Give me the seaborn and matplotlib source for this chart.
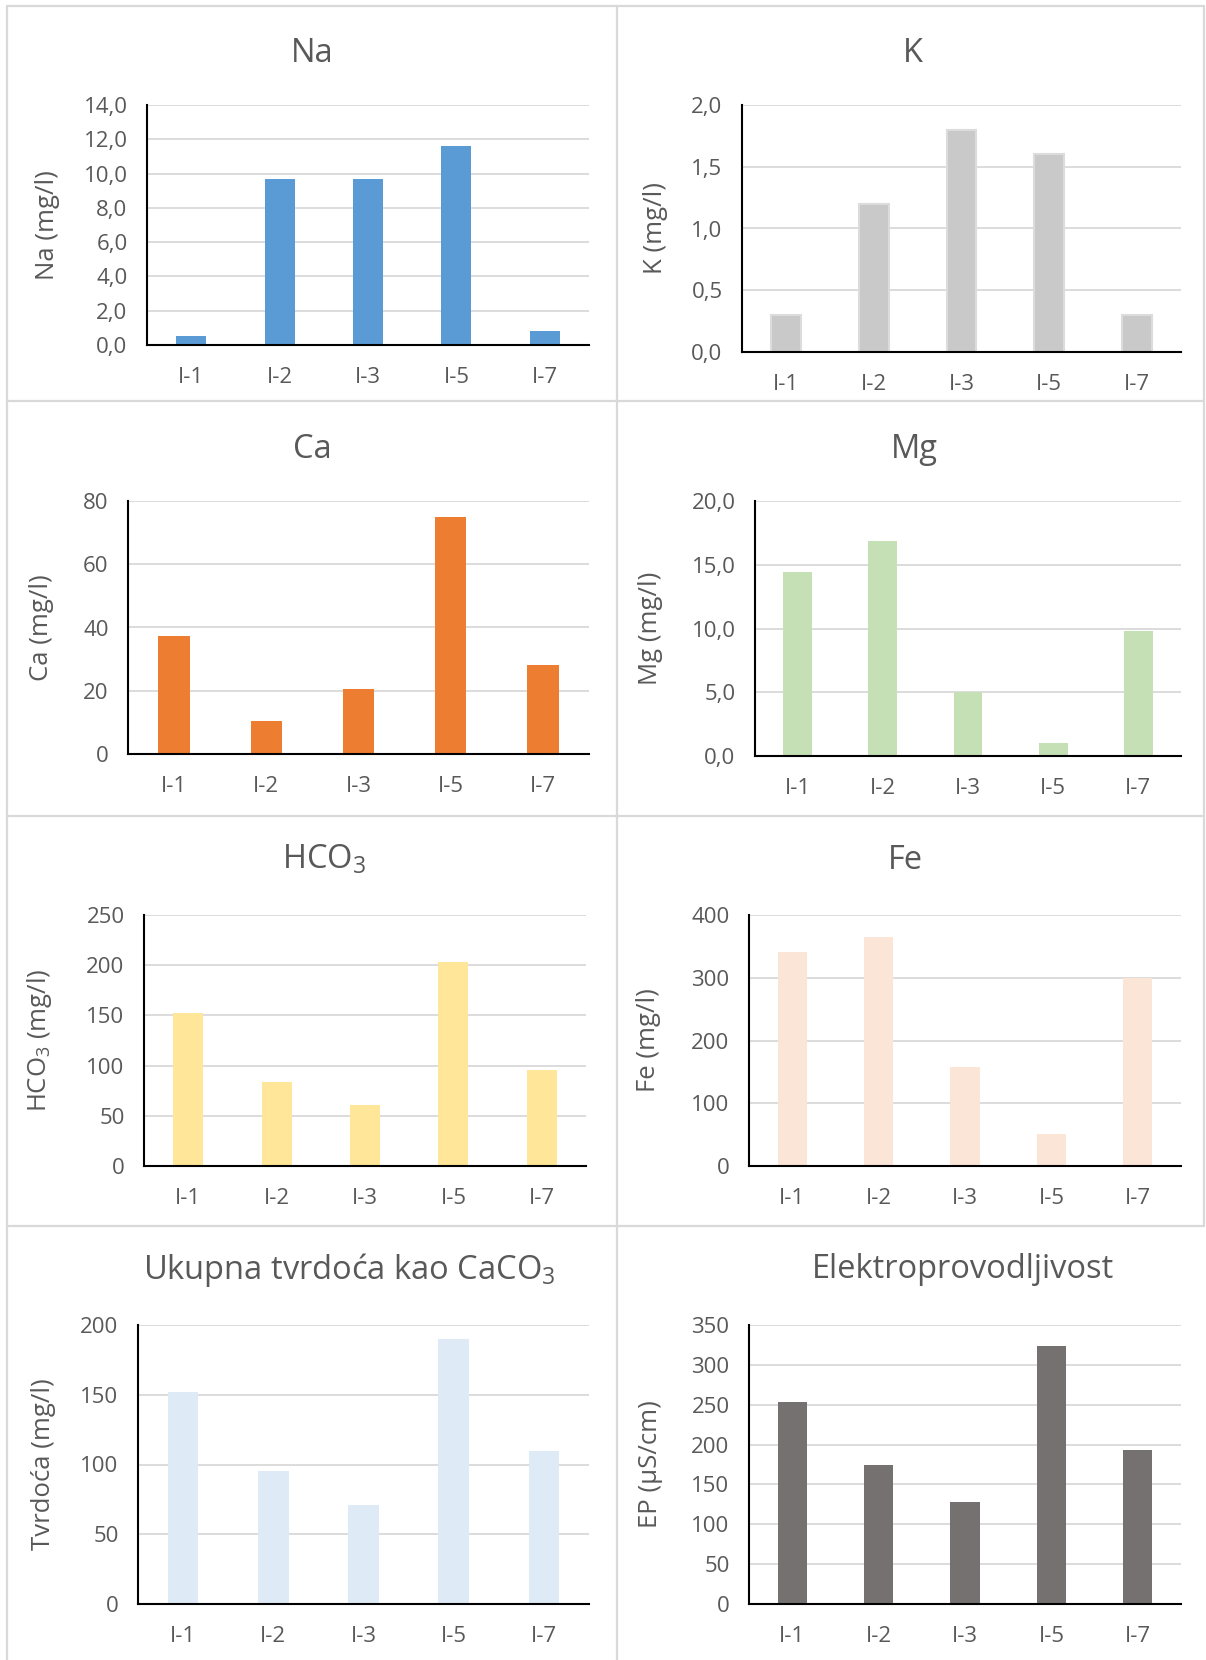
import matplotlib
matplotlib.use("Agg")
import matplotlib.pyplot as plt
from matplotlib.lines import Line2D
from matplotlib.ticker import FuncFormatter, MultipleLocator
import seaborn as sns
import pandas as pd

# ---- data -------------------------------------------------------------
sites = ["I-1", "I-2", "I-3", "I-5", "I-7"]

na = [0.5, 9.7, 9.7, 11.6, 0.8]
k = [0.3, 1.2, 1.8, 1.6, 0.3]
ca = [37.4, 10.4, 20.5, 75.0, 28.1]
mg = [14.4, 16.9, 5.0, 1.05, 9.8]
hco3 = [152, 84, 61, 203.5, 95.5]
fe = [341.5, 365.5, 158, 51.5, 300]
tvrdoca = [152, 95, 71, 190, 110]
ep = [253.5, 174.5, 128, 323.5, 193]

titles = ["Na", "K", "Ca", "Mg", r"HCO$_\mathregular{3}$", "Fe",
          r"Ukupna tvrdoća kao CaCO$_\mathregular{3}$", "Elektroprovodljivost"]
ylabels = ["Na (mg/l)", "K (mg/l)", "Ca (mg/l)", "Mg (mg/l)",
           r"HCO$_\mathregular{3}$ (mg/l)", "Fe (mg/l)", "Tvrdoća (mg/l)", "EP (µS/cm)"]
ymax = [14, 2, 80, 20, 250, 400, 200, 350]
ystep = [2, 0.5, 20, 5, 50, 100, 50, 50]
decimals = [1, 1, 0, 1, 0, 0, 0, 0]

# ---- styling ----------------------------------------------------------
sns.set_theme(style="white")
plt.rcParams["font.family"] = ["Open Sans", "DejaVu Sans"]
plt.rcParams["mathtext.fontset"] = "custom"
plt.rcParams["mathtext.rm"] = "Open Sans"
plt.rcParams["mathtext.it"] = "Open Sans"

colors = ["#5B9BD5", "#C9C9C9", "#ED7D31", "#C5E0B4",
          "#FFE699", "#FBE5D6", "#DEEBF7", "#767171"]
edges = [None, "#DCDCDC", None, None, None, None, None, None]
text_col = "#595959"
grid_col = "#D9D9D9"

W, H = 1206, 1660
fig = plt.figure(figsize=(W / 100, H / 100), dpi=100)

# axes boxes in pixels: left, right, top, bottom
boxes = [(147, 589, 105, 345), (742, 1181, 105, 352),
         (128, 589, 501, 754), (755, 1181, 501, 756),
         (144, 586, 915, 1166), (749, 1181, 915, 1166),
         (138, 589, 1325, 1604), (749, 1181, 1325, 1604)]
title_pos = [(312, 53), (913, 53), (312, 449), (914, 449),
             (324, 860), (905, 860), (349, 1270), (963, 1270)]
# right edge of the rotated y-label (pixels)
ylabel_x = [60, 668, 54, 663, 54, 661, 56, 663]

series = [na, k, ca, mg, hco3, fe, tvrdoca, ep]

for i, vals in enumerate(series):
    l, r, t, b = boxes[i]
    ax = fig.add_axes([l / W, 1 - b / H, (r - l) / W, (b - t) / H])
    df = pd.DataFrame({"site": sites, "value": vals})
    sns.barplot(data=df, x="site", y="value", color=colors[i], saturation=1,
                width=0.34, ax=ax, zorder=3,
                edgecolor=edges[i] if edges[i] else colors[i],
                linewidth=1.5 if edges[i] else 0)
    ax.set_xlim(-0.5, len(sites) - 0.5)
    ax.set_ylim(0, ymax[i])
    ax.yaxis.set_major_locator(MultipleLocator(ystep[i]))
    d = decimals[i]
    ax.yaxis.set_major_formatter(FuncFormatter(
        lambda v, p, d=d: (f"{v:.{d}f}").replace(".", ",")))
    ax.grid(axis="y", color=grid_col, linewidth=1.3, zorder=0)
    ax.set_axisbelow(True)
    for s in ["top", "right"]:
        ax.spines[s].set_visible(False)
    for s in ["left", "bottom"]:
        ax.spines[s].set_color("black")
        ax.spines[s].set_linewidth(1.5)
        ax.spines[s].set_zorder(4)
    ax.tick_params(axis="both", length=0, labelsize=16, colors=text_col)
    ax.tick_params(axis="y", pad=14)
    ax.tick_params(axis="x", pad=16)
    ax.set_xlabel("")
    ax.set_ylabel(ylabels[i], fontsize=18.5, color=text_col)
    ax.yaxis.set_label_coords((ylabel_x[i] - l) / (r - l), 0.5)
    tx, ty = title_pos[i]
    fig.text(tx / W, 1 - ty / H, titles[i], fontsize=23.5, color=text_col,
             ha="center", va="center")

# panel frames
frame = dict(color=grid_col, linewidth=1.6, transform=fig.transFigure)
def hline(y, x0, x1):
    fig.add_artist(Line2D([x0 / W, x1 / W], [1 - y / H, 1 - y / H], **frame))
def vline(x, y0, y1):
    fig.add_artist(Line2D([x / W, x / W], [1 - y0 / H, 1 - y1 / H], **frame))

hline(6, 7, 1204)
for y in (401, 816, 1226):
    hline(y, 7, 1204)
vline(7, 6, 1660)
vline(617, 6, 1660)
vline(1204, 6, 1226)

fig.savefig("out.png", dpi=100, facecolor="white")
